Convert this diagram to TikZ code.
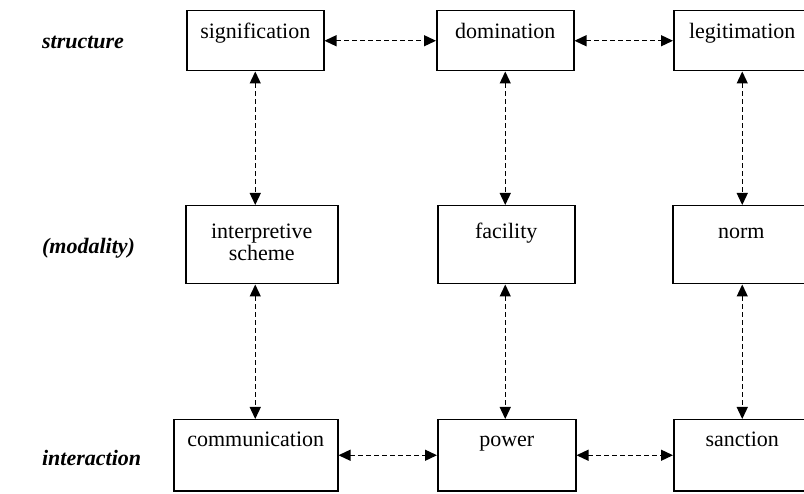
\documentclass[tikz,border=0pt]{standalone}
\usepackage{fontspec}
\setmainfont{Liberation Serif}
\usetikzlibrary{arrows.meta}

\begin{document}
\begin{tikzpicture}[x=1pt,y=-1pt,line width=1.5pt,
  box/.style={draw,anchor=north west,inner sep=0pt,align=center,minimum width=137pt,font=\fontsize{22}{22}\selectfont},
  toprow/.style={text height=28pt,text depth=32pt},
  midrow/.style={text height=33pt,text depth=45pt},
  lowrow/.style={text height=27pt,text depth=44pt},
  level/.style={anchor=west,font=\fontsize{22}{22}\selectfont\bfseries\itshape},
  link/.style={{Triangle[length=12pt,width=11pt]}-{Triangle[length=12pt,width=11pt]},line width=1.3pt,dash pattern=on 5pt off 3pt}]

\useasboundingbox (0,0) rectangle (804,494);

% row labels
\node[level](structure) at (38,42){structure};
\node[level](modality) at (38,248){(modality)};
\node[level](interaction) at (38,458){interaction};

% structure
\node[box,toprow](sig) at (186,10){signification};
\node[box,toprow](dom) at (436,10){domination};
\node[box,toprow](leg) at (673,10){legitimation};

% modality
\node[box,midrow,minimum width=152pt,text height=55pt,text depth=23pt](interp) at (185,205){interpretive\\scheme};
\node[box,midrow](fac) at (437,205){facility};
\node[box,midrow](norm) at (672,205){norm};

% interaction
\node[box,lowrow,minimum width=164pt](comm) at (173,419){communication};
\node[box,lowrow,minimum width=138pt](power) at (437,419){power};
\node[box,lowrow](sanc) at (673,419){sanction};

\path[link](sig)edge(dom)
	(dom)edge(leg)
	(comm)edge(power)
	(power)edge(sanc)
	(sig.south)edge(sig.south |- interp.north)
	(sig.south |- interp.south)edge(sig.south |- comm.north)
	(dom.south)edge(dom.south |- fac.north)
	(dom.south |- fac.south)edge(dom.south |- power.north)
	(leg.south)edge(leg.south |- norm.north)
	(leg.south |- norm.south)edge(leg.south |- sanc.north);

\end{tikzpicture}
\end{document}
